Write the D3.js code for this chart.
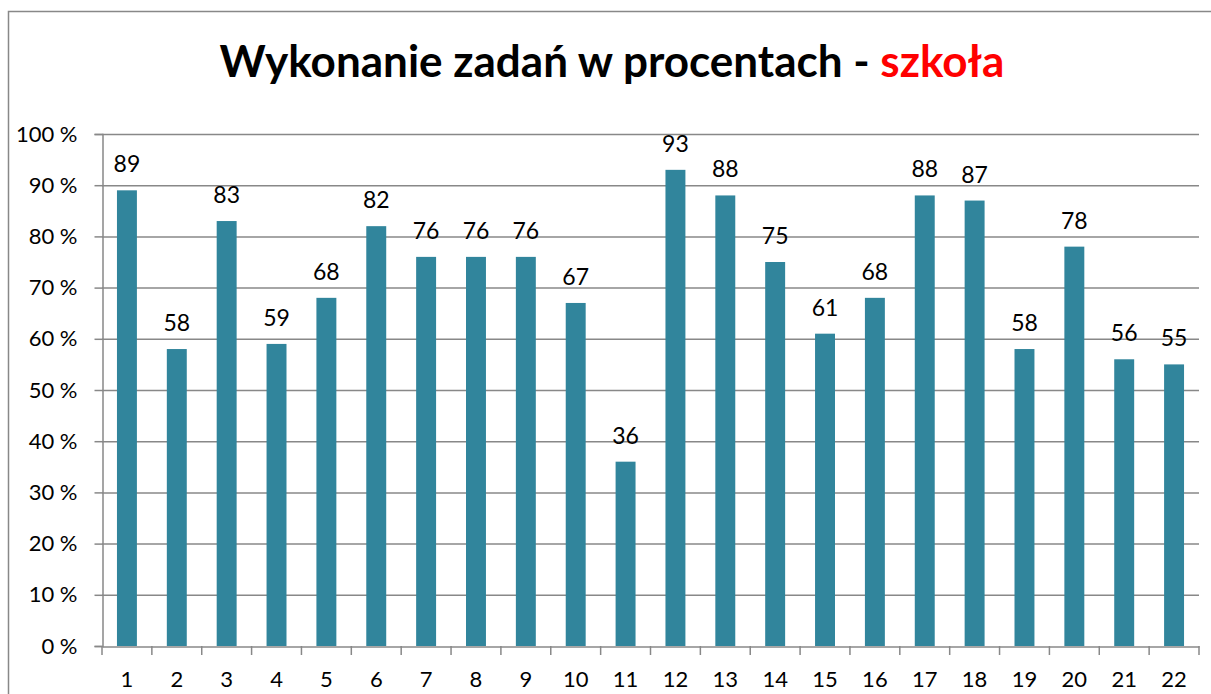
<!DOCTYPE html>
<html><head><meta charset="utf-8">
<script src="https://cdn.jsdelivr.net/npm/d3@7"></script>
<style>body{margin:0;background:#fff}svg{display:block}</style>
</head><body>
<svg id="c" width="1211" height="694"></svg>
<script>
const categories = ["1","2","3","4","5","6","7","8","9","10","11","12","13","14","15","16","17","18","19","20","21","22"];
const values = [89,58,83,59,68,82,76,76,76,67,36,93,88,75,61,68,88,87,58,78,56,55];
const yTicks = [0,10,20,30,40,50,60,70,80,90,100];
const titleMain = "Wykonanie zadań w procentach - ";
const titleRed = "szkoła";

const svg = d3.select("#c");
const font = "Lato, 'Open Sans', sans-serif";
const L = 102, R = 1199, T = 134, B = 646;

// frame
svg.append("path").attr("d", "M8.5,700 V11.5 H1220").attr("fill","none").attr("stroke","#888").attr("stroke-width",1.5);

const x = d3.scaleBand().domain(categories).range([L, R]).paddingInner(0.6).paddingOuter(0.3);
const y = d3.scaleLinear().domain([0,100]).range([B, T]);

// gridlines
svg.append("g").selectAll("line").data(yTicks.filter(d=>d>0)).join("line")
  .attr("x1", L).attr("x2", R).attr("y1", d=>y(d)+0.5).attr("y2", d=>y(d)+0.5)
  .attr("stroke","#888").attr("stroke-width",1.5);

// bars
svg.append("g").selectAll("rect").data(values).join("rect")
  .attr("x",(d,i)=>x(categories[i])).attr("width",x.bandwidth())
  .attr("y",d=>y(d)).attr("height",d=>B-y(d))
  .attr("fill","#31859C");

// y axis
const ya = svg.append("g").attr("transform",`translate(${L+0.5},0)`)
  .call(d3.axisLeft(y).tickValues(yTicks).tickSize(8).tickPadding(17).tickFormat(d=>d+" %"));
ya.select(".domain").attr("stroke","#888").attr("stroke-width",1.5);
ya.selectAll(".tick line").attr("stroke","#888").attr("stroke-width",1.5);
ya.selectAll("text").attr("font-family",font).attr("font-size",22).attr("fill","#000");

// x axis
const xa = svg.append("g").attr("transform",`translate(0,${B+0.5})`)
  .call(d3.axisBottom(x).tickSize(0).tickPadding(25));
xa.select(".domain").attr("stroke","#888").attr("stroke-width",1.5);
xa.selectAll("text").attr("font-family",font).attr("font-size",22).attr("fill","#000");
// boundary ticks
const bounds = d3.range(categories.length+1).map(i=>L + i*(R-L)/categories.length);
svg.append("g").selectAll("line").data(bounds).join("line")
  .attr("x1",d=>d).attr("x2",d=>d).attr("y1",B).attr("y2",B+9)
  .attr("stroke","#888").attr("stroke-width",1.5);

// data labels
svg.append("g").selectAll("text").data(values).join("text")
  .attr("x",(d,i)=>x(categories[i])+x.bandwidth()/2)
  .attr("y",d=>y(d)-18)
  .attr("text-anchor","middle").attr("font-family",font).attr("font-size",23).attr("fill","#000")
  .text(d=>d);

// title
const t = svg.append("text").attr("x",612).attr("y",77).attr("text-anchor","middle")
  .attr("font-family",font).attr("font-weight","bold").attr("font-size",40);
t.append("tspan").attr("fill","#000").text(titleMain);
t.append("tspan").attr("fill","#FF0000").text(titleRed);
const w = t.node().getComputedTextLength();
t.attr("font-size", 40*785/w);
</script>
</body></html>
